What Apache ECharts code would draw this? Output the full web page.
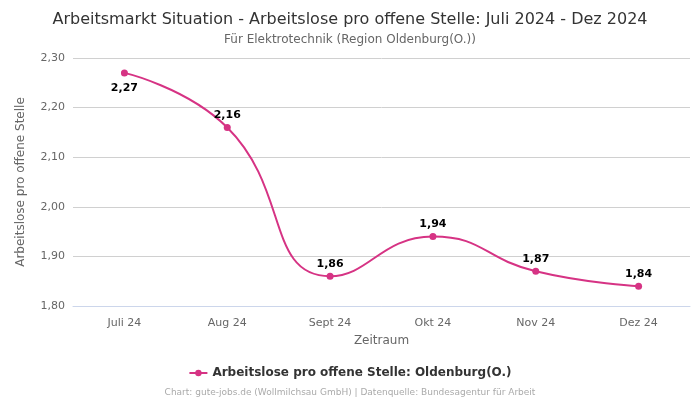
<!DOCTYPE html>
<html><head><meta charset="utf-8">
<script src="https://cdn.jsdelivr.net/npm/echarts@6/dist/echarts.min.js"></script>
<style>html,body{margin:0;padding:0;background:#fff}#c{width:700px;height:400px}</style>
</head><body><div id="c"></div>
<script>
const categories = ['Juli 24','Aug 24','Sept 24','Okt 24','Nov 24','Dez 24'];
const values = [2.27, 2.16, 1.86, 1.94, 1.87, 1.84];
const labelPositions = ['bottom','top','top','top','top','top'];
const seriesName = 'Arbeitslose pro offene Stelle: Oldenburg(O.)';
const color = '#d63384';
const fmt = v => v.toFixed(2).replace('.', ',');
const chart = echarts.init(document.getElementById('c'));
chart.setOption({
  animation: false,
  textStyle: {fontFamily: 'DejaVu Sans'},
  title: [
    {text: 'Arbeitsmarkt Situation - Arbeitslose pro offene Stelle: Juli 2024 - Dez 2024', left: 'center', top: 7,
     textStyle: {fontSize: 16, fontWeight: 'normal', color: '#333', fontFamily: 'DejaVu Sans'}},
    {text: 'Für Elektrotechnik (Region Oldenburg(O.))', left: 'center', top: 29,
     textStyle: {fontSize: 12, fontWeight: 'normal', color: '#666', fontFamily: 'DejaVu Sans'}},
    {text: 'Chart: gute-jobs.de (Wollmilchsau GmbH) | Datenquelle: Bundesagentur für Arbeit', left: 'center', top: 383,
     textStyle: {fontSize: 9, fontWeight: 'normal', color: '#aaa', fontFamily: 'DejaVu Sans'}}
  ],
  legend: {bottom: 16, left: 'center', itemWidth: 18, itemHeight: 8,
    textStyle: {fontSize: 12, fontWeight: 'bold', color: '#333'}, data: [seriesName]},
  grid: {left: 73, right: 10, top: 58, bottom: 94},
  xAxis: {type: 'category', data: categories, boundaryGap: true,
    name: 'Zeitraum', nameLocation: 'middle', nameGap: 29, nameTextStyle: {fontSize: 12, color: '#666'},
    axisLine: {lineStyle: {color: '#ccd6eb'}}, axisTick: {show: false},
    axisLabel: {fontSize: 11, color: '#666', margin: 12}},
  yAxis: {type: 'value', min: 1.8, max: 2.3, interval: 0.1,
    name: 'Arbeitslose pro offene Stelle', nameLocation: 'middle', nameGap: 46, nameTextStyle: {fontSize: 12, color: '#666'},
    axisLabel: {fontSize: 11, color: '#666', formatter: v => fmt(v)},
    splitLine: {lineStyle: {color: '#d0d0d0'}}},
  series: [{
    name: seriesName, type: 'line', smooth: true,
    data: values.map((v, i) => ({value: v, label: {position: labelPositions[i], distance: labelPositions[i] === 'bottom' ? 6 : 3}})),
    symbol: 'circle', symbolSize: 7, itemStyle: {color: color}, lineStyle: {color: color, width: 2},
    label: {show: true, fontSize: 11, fontWeight: 'bold', color: '#000', formatter: p => fmt(p.value)}
  }]
});
</script></body></html>
